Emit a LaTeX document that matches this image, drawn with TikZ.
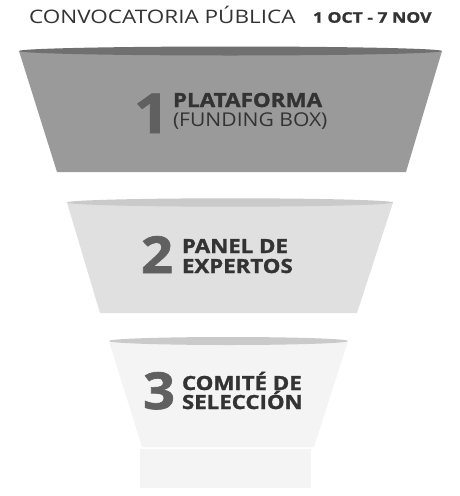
\documentclass[tikz,border=0pt]{standalone}
\usepackage{fontspec}
\setmainfont{Open Sans}
\newfontfamily\heavy[BoldFeatures={FakeBold=1.3}]{Open Sans}
\definecolor{txt}{HTML}{333333}
\definecolor{dig}{HTML}{606060}
\definecolor{bodyA}{HTML}{9A9A9A}
\definecolor{lipA}{HTML}{707070}
\definecolor{bodyB}{HTML}{E0E0E0}
\definecolor{lipB}{HTML}{CACACA}
\definecolor{bodyC}{HTML}{F4F4F4}
\definecolor{lipC}{HTML}{CACACA}
\newcommand{\wide}[2]{\scalebox{#1}[1]{#2}}
\begin{document}
\begin{tikzpicture}[x=1pt,y=-1pt,
  lbl/.style={anchor=base west,inner sep=0pt,outer sep=0pt,text=txt},
  digit/.style={anchor=base west,inner sep=0pt,outer sep=0pt,text=dig,font=\heavy\bfseries\fontsize{55}{55}\selectfont},
  head/.style={font=\heavy\bfseries\fontsize{19.5}{20}\selectfont},
  sub/.style={font=\fontsize{19}{20}\selectfont}]
\useasboundingbox (0,0) rectangle (460,496);
\fill[white] (0,0) rectangle (460,496);
% title
\node[lbl,font=\fontsize{18.6}{19}\selectfont] (title) at (29,23) {\wide{1.21}{CONVOCATORIA PÚBLICA}};
\node[lbl,font=\heavy\bfseries\fontsize{14.6}{15}\selectfont] (date) at (313,22.7) {\wide{1.2}{1 OCT - 7 NOV}};
% funnel 1
\fill[bodyA] (19,51) -- (442,51) -- (406,172) -- (57,172) -- cycle;
\fill[lipA] (230.5,51) ellipse [x radius=211.5, y radius=4.5];
% funnel 2
\fill[bodyB] (67,202.5) -- (393,202.5) -- (357,313) -- (100,313) -- cycle;
\fill[lipB] (230,202.5) ellipse [x radius=163, y radius=4.2];
% funnel 3
\fill[bodyC] (109,341) -- (348,341) -- (314,447) -- (142,447) -- cycle;
\fill[lipC] (228.5,341) ellipse [x radius=119.5, y radius=4];
\fill[bodyC] (140,448.5) rectangle (311,488);
% texts
\node[digit] (d1) at (134,133) {\wide{1.12}{1}};
\node[lbl,head,text depth=0pt] (t1a) at (173,107) {\wide{1.15}{PLATAFORMA}};
\node[lbl,sub,text height=13.5pt] (t1b) at (173,126) {\wide{1.11}{(FUNDING BOX)}};
\node[digit,font=\heavy\bfseries\fontsize{51}{51}\selectfont] (d2) at (141,273) {\wide{1.1}{2}};
\node[lbl,head] (t2a) at (182,253) {\wide{1.14}{PANEL DE}};
\node[lbl,head] (t2b) at (182,273) {\wide{1.14}{EXPERTOS}};
\node[digit,font=\heavy\bfseries\fontsize{51}{51}\selectfont] (d3) at (143,409) {\wide{1.1}{3}};
\node[lbl,head] (t3a) at (182,390) {\wide{1.14}{COMITÉ DE}};
\node[lbl,head] (t3b) at (182,409) {\wide{1.14}{SELECCIÓN}};
\end{tikzpicture}
\end{document}
